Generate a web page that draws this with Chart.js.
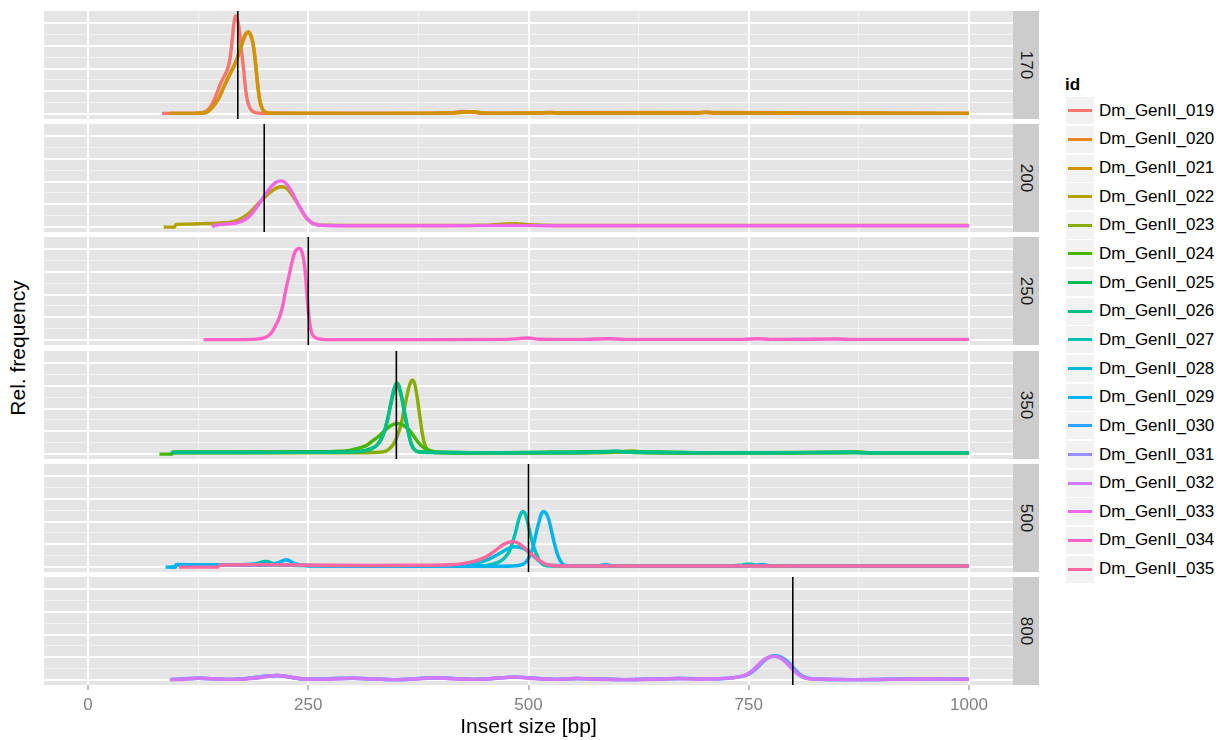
<!DOCTYPE html>
<html>
<head>
<meta charset="utf-8">
<script src="https://cdn.jsdelivr.net/npm/chart.js@4/dist/chart.umd.min.js"></script>
<style>
  html, body { margin:0; padding:0; background:#fff; }
  body { width:1225px; height:740px; position:relative; overflow:hidden; font-family:"Liberation Sans", Arial, Helvetica, sans-serif; }
  canvas { position:absolute; }
  .strip { position:absolute; background:#CCCCCC; }
  .strip span { position:absolute; left:50%; top:50%; transform:translate(-50%,-50%) rotate(90deg); font-size:17px; color:#1A1A1A; white-space:nowrap; }
  #ytitle { position:absolute; left:18px; top:348px; transform:translate(-50%,-50%) rotate(-90deg); font-size:21px; color:#000; white-space:nowrap; }
  .lkey { position:absolute; background:#F2F2F2; }
  .lkey i { position:absolute; left:2px; right:2px; top:50%; height:3px; margin-top:-1.5px; }
  .ltext { position:absolute; font-size:17px; color:#000; white-space:nowrap; transform:translateY(-50%); }
  #ltitle { position:absolute; left:1065px; top:85px; transform:translateY(-50%); font-size:17px; font-weight:bold; color:#000; }
</style>
</head>
<body>
<div id="ytitle">Rel. frequency</div>
<div id="ltitle">id</div>
<script>
// ---------------- data ----------------
const panels = [170, 200, 250, 350, 500, 800];          // facet values (also the reference lines)
const xTicks = [0, 250, 500, 750, 1000];
const xMinorTicks = [125, 375, 625, 875];
const ids = ['Dm_GenII_019','Dm_GenII_020','Dm_GenII_021','Dm_GenII_022','Dm_GenII_023','Dm_GenII_024',
             'Dm_GenII_025','Dm_GenII_026','Dm_GenII_027','Dm_GenII_028','Dm_GenII_029','Dm_GenII_030',
             'Dm_GenII_031','Dm_GenII_032','Dm_GenII_033','Dm_GenII_034','Dm_GenII_035'];
const seriesPanel = [170,170,170,200,350,350,350,350,500,500,500,800,800,800,200,250,500];

const d019 = [[84,0.0003],[100,0.0003],[115,0.0003],[125,0.0004],[131,0.0008],[136,0.0018],[141,0.0045],[146,0.0090],[150,0.0130],[154,0.0162],[158,0.0195],[161,0.0240],[163.5,0.0320],[165.5,0.0395],[167.5,0.0431],[169.5,0.0418],[171.5,0.0375],[174,0.0285],[176.5,0.0200],[179,0.0105],[181.5,0.0050],[184,0.0025],[188,0.0009],[195,0.0004],[220,0.0003],[300,0.0003],[380,0.0003],[412,0.0006],[425,0.0012],[433,0.0010],[445,0.0004],[470,0.0003],[512,0.0004],[525,0.0008],[540,0.0003],[600,0.0003],[690,0.0004],[700,0.0008],[712,0.0004],[760,0.0003],[790,0.0005],[805,0.0003],[880,0.0003],[950,0.0003],[1000,0.0003]];
const d020 = [[92,0.0003],[115,0.0003],[125,0.0004],[134,0.0007],[139,0.0020],[144,0.0043],[149,0.0073],[154,0.0117],[158.5,0.0154],[162,0.0182],[166,0.0212],[170,0.0252],[173.5,0.0292],[176.5,0.0326],[179,0.0350],[182,0.0358],[184.5,0.0346],[186.7,0.0318],[188.5,0.0276],[190,0.0226],[192.4,0.0132],[195,0.0058],[198,0.0021],[201,0.0009],[206,0.0004],[300,0.0003],[420,0.0006],[436,0.0010],[450,0.0004],[520,0.0006],[700,0.0007],[1000,0.0003]];
const d021 = [[93,0.0003],[115,0.0003],[125,0.0004],[133.5,0.0007],[139,0.0022],[144,0.0045],[149,0.0075],[154,0.0120],[158.5,0.0157],[162,0.0185],[166,0.0215],[170,0.0255],[173.5,0.0295],[176.5,0.0330],[179,0.0354],[182,0.0362],[184.5,0.0350],[186.7,0.0322],[188.5,0.0280],[190,0.0230],[192.4,0.0135],[195,0.0060],[198,0.0022],[201,0.0010],[206,0.0004],[230,0.0003],[300,0.0003],[380,0.0003],[415,0.0005],[428,0.0009],[436,0.0011],[446,0.0006],[470,0.0003],[505,0.0003],[520,0.0007],[535,0.0004],[600,0.0003],[650,0.0003],[690,0.0004],[702,0.0008],[715,0.0004],[770,0.0003],[790,0.0006],[805,0.0003],[880,0.0003],[950,0.0003],[1000,0.0003]];
const d022 = [[86,0.0000],[98,0.0000],[100,0.0012],[110,0.0013],[130,0.0015],[150,0.0018],[165,0.0024],[175,0.0040],[183,0.0062],[190,0.0090],[197,0.0118],[204,0.0143],[210,0.0162],[215,0.0173],[220,0.0177],[225,0.0171],[230,0.0150],[236,0.0115],[242,0.0076],[247,0.0044],[253,0.0021],[260,0.0011],[270,0.0008],[320,0.0007],[400,0.0007],[450,0.0008],[470,0.0013],[485,0.0015],[500,0.0010],[530,0.0007],[600,0.0007],[700,0.0007],[800,0.0007],[900,0.0007],[1000,0.0007]];
const d023 = [[94,0.0006],[150,0.0006],[200,0.0006],[250,0.0006],[300,0.0006],[325,0.0007],[333,0.0009],[338,0.0013],[342,0.0023],[346,0.0040],[349,0.0060],[352,0.0090],[355,0.0125],[358,0.0180],[361,0.0237],[364,0.0290],[366.5,0.0318],[368.5,0.0324],[371,0.0305],[374,0.0240],[377,0.0155],[379.5,0.0090],[382,0.0045],[385,0.0022],[390,0.0010],[400,0.0006],[450,0.0005],[520,0.0006],[580,0.0006],[605,0.0009],[618,0.0014],[632,0.0007],[700,0.0005],[800,0.0006],[870,0.0008],[890,0.0005],[1000,0.0005]];
const d024 = [[81,0.0000],[95,0.0000],[97,0.0009],[150,0.0009],[200,0.0009],[250,0.0010],[280,0.0012],[297,0.0016],[306,0.0025],[316,0.0038],[323,0.0058],[331,0.0082],[338,0.0108],[344,0.0126],[351.5,0.0134],[358,0.0127],[365,0.0104],[370,0.0077],[376,0.0046],[381,0.0028],[387.5,0.0016],[395,0.0009],[450,0.0006],[550,0.0006],[595,0.0010],[605,0.0011],[620,0.0007],[700,0.0006],[860,0.0007],[875,0.0009],[890,0.0006],[1000,0.0006]];
const d025 = [[95,0.0007],[150,0.0007],[250,0.0008],[305,0.0011],[322,0.0024],[331,0.0053],[338,0.0118],[344,0.0224],[349.5,0.0300],[351,0.0303],[355.5,0.0256],[361,0.0144],[367,0.0044],[375,0.0010],[450,0.0006],[600,0.0012],[700,0.0006],[1000,0.0006]];
const d026 = [[94,0.0007],[150,0.0007],[200,0.0007],[250,0.0008],[290,0.0009],[305,0.0011],[315,0.0016],[322,0.0025],[327,0.0036],[331,0.0055],[335,0.0085],[338,0.0122],[341,0.0170],[344,0.0230],[347,0.0283],[349.5,0.0308],[351,0.0311],[353,0.0300],[355.5,0.0262],[358,0.0212],[361,0.0148],[364,0.0088],[367,0.0045],[370,0.0022],[375,0.0010],[385,0.0007],[450,0.0006],[550,0.0006],[590,0.0010],[600,0.0013],[612,0.0008],[700,0.0006],[780,0.0006],[865,0.0009],[880,0.0006],[1000,0.0006]];
const d027 = [[95,0.0000],[99,0.0000],[100,0.0010],[130,0.0010],[170,0.0010],[190,0.0015],[202,0.0025],[212,0.0014],[230,0.0008],[280,0.0006],[350,0.0005],[420,0.0005],[448,0.0006],[458,0.0012],[467,0.0023],[474,0.0045],[478,0.0067],[482,0.0110],[486,0.0163],[489,0.0210],[491.5,0.0236],[493.5,0.0244],[496,0.0236],[498.5,0.0205],[501,0.0163],[505,0.0100],[508.7,0.0060],[513,0.0025],[518,0.0008],[525,0.0005],[560,0.0004],[600,0.0004],[700,0.0004],[740,0.0008],[750,0.0014],[760,0.0007],[800,0.0004],[900,0.0004],[1000,0.0004]];
const d028 = [[92,0.0000],[98,0.0000],[100,0.0009],[150,0.0008],[200,0.0010],[230,0.0008],[300,0.0006],[380,0.0006],[420,0.0008],[440,0.0016],[455,0.0035],[465,0.0055],[474,0.0075],[480,0.0086],[485,0.0089],[490,0.0087],[496,0.0078],[502,0.0060],[508,0.0040],[516,0.0016],[525,0.0008],[560,0.0005],[700,0.0005],[850,0.0005],[1000,0.0005]];
const d029 = [[88,0.0000],[99,0.0000],[101,0.0012],[140,0.0010],[200,0.0008],[215,0.0018],[225,0.0032],[235,0.0015],[250,0.0006],[300,0.0005],[400,0.0004],[470,0.0004],[490,0.0008],[497,0.0022],[501,0.0045],[505,0.0085],[508.7,0.0149],[512,0.0200],[515,0.0237],[517.5,0.0244],[520,0.0236],[523,0.0210],[526,0.0160],[530,0.0095],[533,0.0055],[537,0.0022],[541,0.0008],[555,0.0004],[580,0.0006],[588,0.0010],[598,0.0005],[700,0.0004],[755,0.0006],[765,0.0012],[775,0.0005],[850,0.0004],[1000,0.0004]];
const d030 = [[93,0.0002],[125,0.0008],[165,0.0003],[215,0.0020],[245,0.0005],[300,0.0008],[350,0.0002],[395,0.0010],[440,0.0003],[485,0.0013],[530,0.0003],[555,0.0007],[610,0.0002],[670,0.0007],[715,0.0006],[737,0.0013],[750,0.0026],[759,0.0052],[766,0.0080],[772,0.0098],[778,0.0107],[783,0.0106],[789,0.0096],[795,0.0078],[801,0.0053],[807,0.0029],[813,0.0014],[822,0.0006],[870,0.0002],[950,0.0005],[1000,0.0004]];
const d031 = [[93,0.0002],[125,0.0008],[165,0.0003],[215,0.0020],[245,0.0005],[300,0.0008],[350,0.0002],[395,0.0010],[440,0.0003],[485,0.0013],[530,0.0003],[555,0.0007],[610,0.0002],[670,0.0007],[715,0.0006],[736,0.0012],[749,0.0025],[758,0.0050],[765,0.0078],[771,0.0096],[777,0.0104],[782,0.0103],[788,0.0094],[794,0.0076],[800,0.0051],[806,0.0028],[812,0.0013],[821,0.0006],[870,0.0002],[950,0.0005],[1000,0.0004]];
const d032 = [[93,0.0002],[110,0.0004],[125,0.0008],[140,0.0006],[165,0.0003],[190,0.0008],[205,0.0017],[215,0.0020],[225,0.0016],[245,0.0005],[270,0.0003],[300,0.0008],[320,0.0005],[350,0.0002],[380,0.0007],[395,0.0010],[410,0.0006],[440,0.0003],[470,0.0010],[485,0.0013],[500,0.0008],[530,0.0003],[555,0.0007],[575,0.0004],[610,0.0002],[650,0.0004],[670,0.0007],[690,0.0004],[715,0.0006],[735,0.0012],[745,0.0020],[755,0.0045],[762,0.0072],[768,0.0092],[774,0.0102],[779,0.0104],[785,0.0098],[791,0.0082],[797,0.0058],[803,0.0035],[810,0.0016],[818,0.0006],[840,0.0004],[870,0.0002],[910,0.0003],[950,0.0005],[1000,0.0004]];
const d033 = [[141,0.0000],[143,0.0006],[148,0.0010],[160,0.0014],[170,0.0020],[178,0.0032],[185,0.0055],[190,0.0080],[196,0.0112],[202,0.0148],[208,0.0178],[213,0.0196],[219,0.0203],[224,0.0195],[229,0.0170],[235,0.0128],[241,0.0082],[247,0.0045],[253,0.0022],[259,0.0011],[268,0.0007],[300,0.0006],[400,0.0006],[480,0.0007],[520,0.0006],[700,0.0006],[850,0.0006],[1000,0.0006]];
const d034 = [[131,0.0002],[170,0.0002],[190,0.0004],[198,0.0008],[204,0.0017],[209,0.0036],[213,0.0065],[217,0.0097],[221,0.0150],[224,0.0212],[228,0.0280],[232,0.0350],[235,0.0388],[237.5,0.0400],[240,0.0402],[242,0.0396],[244,0.0368],[246,0.0320],[248,0.0225],[250,0.0130],[252,0.0065],[254,0.0030],[257,0.0014],[262,0.0005],[270,0.0002],[400,0.0002],[470,0.0003],[490,0.0007],[500,0.0009],[512,0.0004],[560,0.0003],[590,0.0006],[610,0.0003],[700,0.0003],[745,0.0003],[760,0.0006],[775,0.0003],[850,0.0005],[870,0.0003],[1000,0.0003]];
const d035 = [[103,0.0000],[147,0.0000],[150,0.0009],[200,0.0010],[260,0.0008],[320,0.0007],[380,0.0008],[410,0.0010],[425,0.0015],[440,0.0027],[452,0.0045],[463,0.0075],[471,0.0098],[477,0.0108],[482,0.0112],[487,0.0108],[493,0.0092],[498,0.0075],[504,0.0055],[510,0.0036],[517,0.0018],[524,0.0008],[540,0.0005],[600,0.0005],[700,0.0005],[800,0.0005],[900,0.0005],[1000,0.0005]];
const seriesData = [d019,d020,d021,d022,d023,d024,d025,d026,d027,d028,d029,d030,d031,d032,d033,d034,d035];

// ---------------- colours (ggplot2 default hue palette) ----------------
function hcl(h, c, l) {
  const WX = 95.047, WY = 100.0, WZ = 108.883;
  const un = 4 * WX / (WX + 15 * WY + 3 * WZ), vn = 9 * WY / (WX + 15 * WY + 3 * WZ);
  const hr = h * Math.PI / 180;
  const U = c * Math.cos(hr), V = c * Math.sin(hr);
  const Y = WY * (l > 7.999592 ? Math.pow((l + 16) / 116, 3) : l / 903.3);
  const u = U / (13 * l) + un, v = V / (13 * l) + vn;
  const X = 9.0 * Y * u / (4 * v);
  const Z = -X / 3 - 5 * Y + 3 * Y / v;
  const gam = t => t > 0.00304 ? 1.055 * Math.pow(t, 1 / 2.4) - 0.055 : 12.92 * t;
  const ch = t => Math.round(255 * Math.min(1, Math.max(0, gam(t))));
  const r = ch((3.240479 * X - 1.537150 * Y - 0.498535 * Z) / WY);
  const g = ch((-0.969256 * X + 1.875992 * Y + 0.041556 * Z) / WY);
  const b = ch((0.055648 * X - 0.204043 * Y + 1.057311 * Z) / WY);
  return '#' + [r, g, b].map(n => n.toString(16).padStart(2, '0')).join('');
}
const nS = ids.length;
const colors = ids.map((_, i) => hcl(15 + i * (360 - 360 / nS) / (nS - 1), 100, 65));

// ---------------- layout ----------------
const PL = 44, PW = 969, PH = 108;
const panelTops = [11, 124, 237, 351, 464, 577];
const allY = seriesData.flat().map(p => p[1]);
const yLo0 = Math.min(...allY), yHi0 = Math.max(...allY);
const yPad = (yHi0 - yLo0) * 0.05;
const yMin = yLo0 - yPad, yMax = yHi0 + yPad;
const xMin = -50, xMax = 1050;
const yGridTicks = [0, 0.005, 0.01, 0.015, 0.02, 0.025, 0.03, 0.035, 0.04];
const isMajorY = v => Math.abs(v * 100 - Math.round(v * 100)) < 1e-6;
const allXTicks = [...xTicks, ...xMinorTicks].sort((a, b) => a - b);
const isMajorX = v => xTicks.includes(v);

const bgPlugin = {
  id: 'panelBg',
  beforeDraw(chart) {
    const a = chart.chartArea, c = chart.ctx;
    c.save(); c.fillStyle = '#E5E5E5';
    c.fillRect(a.left, a.top, a.right - a.left, a.bottom - a.top);
    c.restore();
  }
};

panels.forEach((pv, k) => {
  const last = k === panels.length - 1;
  const cv = document.createElement('canvas');
  const h = last ? 740 - panelTops[k] : PH;
  cv.width = PW; cv.height = h;
  cv.style.left = PL + 'px'; cv.style.top = panelTops[k] + 'px';
  cv.style.width = PW + 'px'; cv.style.height = h + 'px';
  document.body.appendChild(cv);

  const datasets = [];
  datasets.push({
    data: [{x: pv, y: yMin}, {x: pv, y: yMax}],
    borderColor: '#000000', borderWidth: 1.6, order: 0
  });
  ids.forEach((id, i) => {
    if (seriesPanel[i] !== pv) return;
    datasets.push({
      label: id,
      data: seriesData[i].map(p => ({x: p[0], y: p[1]})),
      borderColor: colors[i], borderWidth: 3.4,
      cubicInterpolationMode: 'monotone',
      borderJoinStyle: 'round',
      order: 100 - i
    });
  });

  new Chart(cv, {
    type: 'line',
    data: { datasets },
    plugins: [bgPlugin],
    options: {
      responsive: false, animation: false, devicePixelRatio: 1,
      layout: { padding: 0 },
      elements: { point: { radius: 0 } },
      plugins: { legend: { display: false }, tooltip: { enabled: false } },
      scales: {
        x: {
          type: 'linear', min: xMin, max: xMax,
          afterBuildTicks: ax => { ax.ticks = allXTicks.map(v => ({ value: v })); },
          afterFit: last ? (s => { s.height = h - PH; }) : undefined,
          border: { display: false },
          grid: {
            color: c => (c.tick && isMajorX(c.tick.value)) ? '#FFFFFF' : '#F2F2F2',
            lineWidth: c => (c.tick && isMajorX(c.tick.value)) ? 2 : 1,
            drawTicks: last, tickLength: 5,
            tickColor: c => (c.tick && isMajorX(c.tick.value)) ? '#7F7F7F' : 'rgba(0,0,0,0)',
            tickWidth: 1
          },
          ticks: {
            display: last, autoSkip: false, maxRotation: 0, padding: 5,
            color: '#7F7F7F', font: { family: "'Liberation Sans', Arial, sans-serif", size: 17 },
            callback: v => isMajorX(v) ? String(v) : ''
          },
          title: {
            display: last, text: 'Insert size [bp]', color: '#000000',
            font: { family: "'Liberation Sans', Arial, sans-serif", size: 21 },
            padding: { top: 0, bottom: 0 }
          }
        },
        y: {
          type: 'linear', min: yMin, max: yMax,
          afterBuildTicks: ax => { ax.ticks = yGridTicks.map(v => ({ value: v })); },
          border: { display: false },
          grid: {
            color: c => (c.tick && isMajorY(c.tick.value)) ? '#FFFFFF' : '#F2F2F2',
            lineWidth: c => (c.tick && isMajorY(c.tick.value)) ? 2 : 1,
            drawTicks: false
          },
          ticks: { display: false }
        }
      }
    }
  });

  const st = document.createElement('div');
  st.className = 'strip';
  st.style.left = (PL + PW) + 'px'; st.style.top = panelTops[k] + 'px';
  st.style.width = '26px'; st.style.height = PH + 'px';
  const sp = document.createElement('span'); sp.textContent = String(pv);
  st.appendChild(sp); document.body.appendChild(st);
});

// ---------------- legend ----------------
ids.forEach((id, i) => {
  const cy = 110.7 + i * 28.65;
  const key = document.createElement('div');
  key.className = 'lkey';
  key.style.left = '1066px'; key.style.top = (cy - 13.5) + 'px';
  key.style.width = '28px'; key.style.height = '27px';
  const ln = document.createElement('i'); ln.style.background = colors[i];
  key.appendChild(ln); document.body.appendChild(key);
  const t = document.createElement('div');
  t.className = 'ltext'; t.textContent = id;
  t.style.left = '1099px'; t.style.top = cy + 'px';
  document.body.appendChild(t);
});
</script>
</body>
</html>
